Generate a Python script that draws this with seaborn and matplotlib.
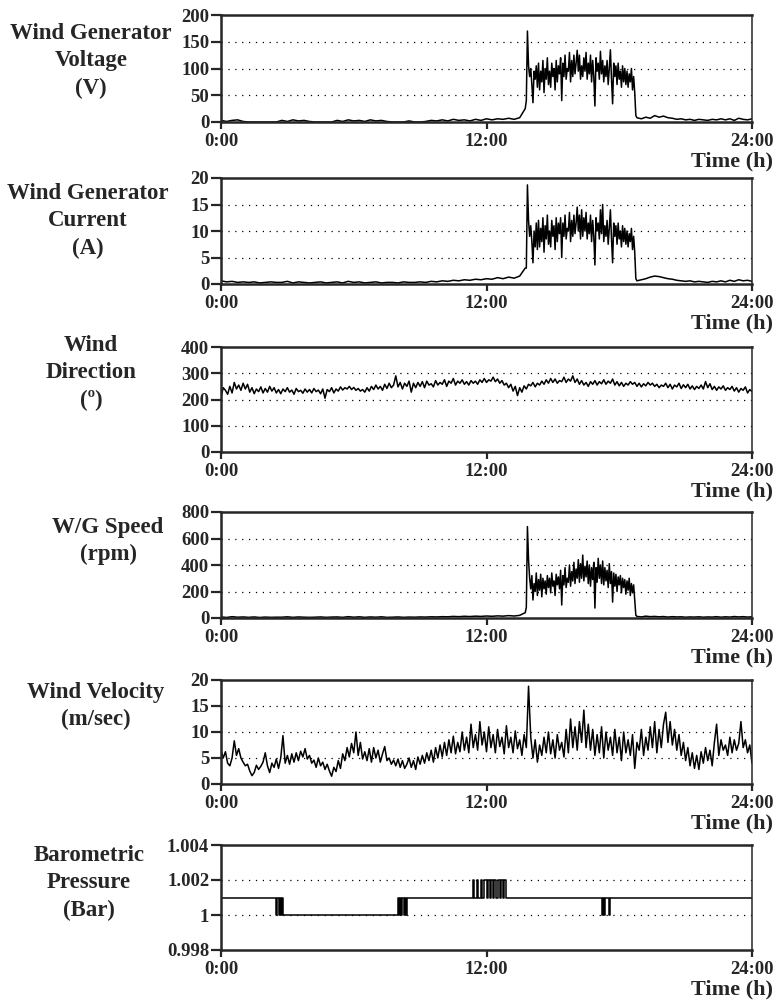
import numpy as np
import pandas as pd
import matplotlib
matplotlib.use('Agg')
import matplotlib.pyplot as plt
import seaborn as sns

# ---- time grids (hours) ----
t_low = np.arange(0, 13.76, 0.25)          # 0 .. 13.75
t_act = np.round(13.80 + 0.05 * np.arange(100), 2)   # 13.80 .. 18.75
t_post = np.round(18.8 + 0.2 * np.arange(27), 2)     # 18.8 .. 24.0
t_gen = np.concatenate([t_low, t_act, t_post])
t_day = np.round(0.1 * np.arange(241), 1)            # 0 .. 24.0

# ---- Wind generator voltage (V) ----
volt_low = [3, 1, 3, 4, 1,
            0, 0, 0, 0, 0, 0,
            3, 1, 4, 2, 3, 1,
            0, 0, 0, 0,
            3, 1, 4, 2, 3, 1, 4, 2, 3, 1,
            0, 0, 0, 2,
            0, 0, 1, 3, 2, 4, 2, 5, 3, 4, 2, 5, 3, 6, 4, 6, 5, 7, 5, 8, 25]
volt_act = [40, 170, 105, 85, 100, 70, 36, 95, 80, 105,
            65, 110, 60, 95, 75, 115, 55, 100, 80, 120,
            70, 95, 65, 110, 85, 100, 60, 115, 75, 105,
            90, 120, 40, 110, 85, 125, 80, 100, 95, 130,
            75, 115, 85, 125, 90, 110, 134, 95, 125, 80,
            105, 85, 120, 95, 130, 80, 110, 90, 125, 75,
            115, 85, 30, 120, 95, 110, 80, 132, 90, 115,
            75, 105, 85, 115, 70, 100, 135, 80, 34, 110,
            85, 105, 70, 110, 80, 95, 65, 105, 75, 100,
            70, 95, 65, 90, 75, 100, 60, 85, 55, 12]
volt_post = [8, 6, 9, 7, 12, 9, 11, 8, 7, 5,
             6, 4, 5, 3, 5, 4, 3, 5, 4, 6,
             4, 6, 3, 7, 5, 4, 6]

# ---- Wind generator current (A) ----
curr_low = [0.6, 0.4, 0.5, 0.3, 0.4,
            0.3, 0.4, 0.2, 0.3, 0.4, 0.3,
            0.3, 0.5, 0.2, 0.4, 0.3, 0.2,
            0.3, 0.4, 0.2, 0.3,
            0.4, 0.2, 0.5, 0.3, 0.4, 0.2, 0.3, 0.4, 0.2, 0.3,
            0.3, 0.2, 0.4, 0.3,
            0.3, 0.4, 0.3, 0.5, 0.4, 0.6, 0.5, 0.7, 0.6, 0.8, 0.7, 0.9, 0.8, 1.0,
            0.9, 1.2, 1.0, 1.3, 1.1, 1.5, 3.0]
curr_act = [3, 18.7, 12, 9, 11, 8, 4, 10, 7, 11.5,
            6.5, 12, 7, 10.5, 8, 12.5, 6, 11, 8.5, 13,
            7.5, 10, 7, 12, 9, 11, 6.5, 12.5, 8, 11.5,
            9.5, 12.5, 5, 11.5, 9, 13, 8.5, 10.5, 10, 13.5,
            8, 12, 9, 13, 9.5, 11.5, 14.5, 10, 13, 8.5,
            14, 9, 12.5, 10, 13.5, 8.5, 11.5, 9.5, 13, 8,
            12, 9, 3.6, 12.5, 10, 11.5, 8.5, 14, 9.5, 15,
            8, 11, 9, 12, 7.5, 10.5, 14, 8.5, 4, 11.5,
            9, 11, 7.5, 11.5, 8.5, 10, 7, 11, 8, 10.5,
            7.5, 10, 7, 9.5, 8, 10.5, 6.5, 9, 6, 1]
curr_post = [0.6, 0.8, 1.0, 1.3, 1.5, 1.4, 1.2, 1.0, 0.9, 0.7,
             0.6, 0.5, 0.6, 0.4, 0.5, 0.4, 0.3, 0.5, 0.4, 0.6,
             0.4, 0.7, 0.5, 0.8, 0.6, 0.7, 0.5]

# ---- W/G speed (rpm) ----
rpm_low = [8, 4, 10, 6, 8,
           5, 8, 4, 7, 5, 6,
           6, 9, 5, 8, 6, 5,
           6, 8, 5, 7,
           8, 5, 10, 6, 9, 5, 8, 6, 9, 5,
           6, 8, 5, 7,
           6, 8, 7, 9, 8, 10, 9, 12, 10, 13, 11, 14, 12, 15, 13, 16, 14, 18, 15, 20, 40]
rpm_act = [80, 690, 440, 300, 220, 320, 136, 260, 200, 340,
           170, 290, 210, 330, 160, 300, 220, 280, 180, 320,
           230, 300, 190, 340, 240, 280, 170, 330, 250, 310,
           220, 360, 98, 320, 250, 380, 230, 300, 270, 400,
           240, 350, 280, 420, 260, 370, 300, 440, 270, 410,
           300, 475, 280, 390, 310, 430, 260, 400, 240, 380,
           290, 420, 75, 380, 270, 450, 300, 400, 260, 430,
           250, 380, 280, 360, 230, 410, 260, 350, 120, 340,
           240, 330, 200, 310, 250, 320, 190, 300, 230, 290,
           180, 280, 210, 300, 170, 260, 190, 250, 140, 20]
rpm_post = [12, 8, 14, 10, 12, 9, 11, 7, 10, 8,
            9, 6, 8, 7, 9, 6, 8, 7, 10, 6,
            9, 7, 11, 8, 10, 7, 9]

# ---- Wind direction (deg), every 6 min ----
direction = [210, 245, 235, 220, 250, 225, 265, 240, 255, 235,
             262, 240, 258, 228, 245, 222, 240, 230, 248, 225,
             242, 228, 250, 232, 245, 225, 238, 222, 240, 230,
             245, 228, 236, 220, 242, 230, 235, 224, 240, 228,
             238, 225, 242, 230, 236, 222, 240, 205, 238, 230,
             245, 225, 240, 232, 248, 236, 245, 240, 250, 238,
             246, 235, 242, 232, 238, 228, 245, 232, 250, 238,
             255, 240, 250, 235, 258, 242, 262, 245, 255, 290,
             248, 265, 240, 262, 250, 270, 228, 262, 245, 265,
             250, 268, 245, 270, 255, 260, 248, 272, 255, 265,
             258, 275, 250, 270, 262, 280, 255, 270, 262, 275,
             258, 268, 255, 272, 262, 270, 258, 275, 265, 280,
             265, 275, 270, 285, 268, 278, 262, 272, 255, 262,
             245, 258, 232, 250, 215, 245, 228, 252, 240, 258,
             252, 265, 248, 262, 255, 270, 258, 275, 262, 280,
             265, 278, 262, 272, 268, 285, 265, 278, 270, 290,
             265, 278, 258, 272, 255, 265, 250, 268, 258, 272,
             255, 268, 260, 275, 258, 270, 262, 278, 255, 268,
             252, 265, 250, 262, 255, 268, 258, 265, 250, 262,
             248, 260, 252, 265, 255, 262, 250, 258, 245, 255,
             250, 262, 245, 258, 240, 255, 248, 262, 242, 256,
             245, 258, 240, 252, 238, 250, 242, 255, 240, 268,
             245, 260, 238, 250, 235, 248, 240, 252, 235, 245,
             238, 250, 232, 245, 228, 242, 235, 248, 225, 238,
             230]

# ---- Wind velocity (m/sec), every 6 min ----
velocity = [6.5, 5.0, 6.2, 4.0, 3.5, 5.0, 8.3, 5.5, 6.8, 5.0,
            4.2, 3.5, 3.8, 2.5, 1.6, 2.2, 3.6, 2.8, 3.4, 4.2,
            6.0, 3.5, 2.2, 4.0, 3.2, 4.8, 3.0, 5.0, 9.3, 4.0,
            5.5, 3.8, 5.8, 4.2, 6.0, 4.5, 6.3, 5.2, 6.8, 4.8,
            5.5, 4.0, 4.6, 3.2, 5.0, 3.5, 4.2, 2.8, 3.8, 2.5,
            1.5, 3.2, 2.4, 4.5, 3.0, 5.8, 4.5, 7.0, 5.2, 7.8,
            6.0, 10.0, 5.5, 8.0, 4.8, 6.2, 4.5, 6.8, 4.2, 7.0,
            5.0, 6.5, 4.2, 5.8, 7.2, 4.5, 5.0, 3.8, 4.6, 3.5,
            4.8, 3.2, 4.5, 3.0, 3.8, 5.0, 3.2, 4.5, 2.8, 5.2,
            3.8, 5.5, 4.0, 6.0, 4.5, 6.5, 4.2, 7.0, 5.0, 7.5,
            5.2, 8.0, 5.5, 8.5, 6.0, 9.2, 5.8, 8.0, 6.2, 10.0,
            6.5, 9.0, 6.0, 11.5, 7.0, 9.5, 6.5, 12.0, 7.5, 10.0,
            6.2, 11.0, 7.0, 9.5, 6.0, 10.5, 7.2, 9.0, 5.8, 11.2,
            7.0, 9.0, 6.0, 10.2, 6.8, 8.5, 5.5, 9.5, 7.0, 18.8,
            9.0, 5.0, 8.5, 4.2, 7.5, 5.5, 9.0, 6.0, 10.0, 5.8,
            8.5, 5.0, 9.5, 6.5, 8.0, 5.2, 10.5, 6.0, 12.5, 7.0,
            11.0, 6.5, 12.0, 8.0, 14.2, 7.0, 11.5, 6.5, 10.5, 5.5,
            9.5, 6.0, 11.0, 5.0, 10.0, 6.5, 9.0, 5.5, 10.5, 6.0,
            9.0, 4.5, 10.0, 6.0, 8.5, 5.5, 9.5, 3.0, 8.0, 6.5,
            10.5, 5.5, 9.0, 6.5, 11.0, 7.0, 12.0, 6.0, 10.5, 7.0,
            11.5, 13.8, 8.0, 12.0, 7.5, 10.5, 6.5, 9.5, 5.5, 8.0,
            4.5, 7.0, 3.5, 6.0, 3.0, 5.5, 2.8, 6.2, 4.0, 7.0,
            4.5, 6.5, 3.5, 8.0, 11.5, 5.5, 8.5, 6.5, 7.5, 5.5,
            9.0, 6.0, 8.5, 6.5, 7.8, 12.0, 7.0, 8.5, 6.0, 7.5,
            4.0]

# ---- Barometric pressure (Bar), step changes ----
p_time = [0.0, 2.50, 2.55, 2.60, 2.65, 2.70, 2.75, 2.80,
          8.00, 8.05, 8.10, 8.15, 8.20, 8.25, 8.30, 8.35, 8.40,
          11.40, 11.45, 11.55, 11.60, 11.75, 11.80, 11.90, 12.00, 12.05, 12.15,
          12.20, 12.30, 12.35, 12.45, 12.50, 12.60, 12.65, 12.75, 12.80, 12.90,
          17.20, 17.25, 17.30, 17.35, 17.55, 17.60, 24.0]
p_value = [1.001, 1.000, 1.001, 1.000, 1.001, 1.000, 1.001, 1.000,
           1.001, 1.000, 1.001, 1.000, 1.001, 1.000, 1.001, 1.000, 1.001,
           1.002, 1.001, 1.002, 1.001, 1.002, 1.001, 1.002, 1.001, 1.002, 1.001,
           1.002, 1.001, 1.002, 1.001, 1.002, 1.001, 1.002, 1.001, 1.002, 1.001,
           1.000, 1.001, 1.000, 1.001, 1.000, 1.001, 1.001]

panels = [
    dict(label='Wind Generator\nVoltage\n(V)', t=t_gen, y=volt_low + volt_act + volt_post,
         ticks=[0, 50, 100, 150, 200], ticklabels=['0', '50', '100', '150', '200']),
    dict(label='Wind Generator\nCurrent\n(A)', t=t_gen, y=curr_low + curr_act + curr_post,
         ticks=[0, 5, 10, 15, 20], ticklabels=['0', '5', '10', '15', '20']),
    dict(label='Wind\nDirection\n(º)', t=t_day, y=direction,
         ticks=[0, 100, 200, 300, 400], ticklabels=['0', '100', '200', '300', '400']),
    dict(label='W/G Speed\n(rpm)', t=t_gen, y=rpm_low + rpm_act + rpm_post,
         ticks=[0, 200, 400, 600, 800], ticklabels=['0', '200', '400', '600', '800']),
    dict(label='Wind Velocity\n(m/sec)', t=t_day, y=velocity,
         ticks=[0, 5, 10, 15, 20], ticklabels=['0', '5', '10', '15', '20']),
    dict(label='Barometric\nPressure\n(Bar)', t=p_time, y=p_value, steps=True,
         ticks=[0.998, 1.000, 1.002, 1.004], ticklabels=['0.998', '1', '1.002', '1.004']),
]

x_ticks = [0, 12, 24]
x_ticklabels = ['0:00', '12:00', '24:00']

sns.set_style('ticks')
plt.rcParams['font.family'] = ['Liberation Serif', 'DejaVu Serif']
plt.rcParams['font.weight'] = 'bold'

W, H = 778, 1006
fig = plt.figure(figsize=(W / 100, H / 100), dpi=100)

# axes boxes in pixels: (top, bottom); label centre (x, y)
boxes = [(15, 122), (178, 284), (347, 452), (512, 618), (680, 784), (845, 950)]
label_pos = [(91, 61), (88, 221), (91, 373), (108, 541), (96, 706), (89, 883)]
left_px, right_px = 221, 752

for p, (top, bot), (lx, ly) in zip(panels, boxes, label_pos):
    ax = fig.add_axes([left_px / W, 1 - bot / H, (right_px - left_px) / W, (bot - top) / H])
    df = pd.DataFrame({'t': p['t'], 'v': p['y']})
    kw = dict(drawstyle='steps-post') if p.get('steps') else {}
    sns.lineplot(data=df, x='t', y='v', ax=ax, color='black', linewidth=1.1,
                 estimator=None, sort=False, **kw)
    ax.set_xlim(0, 24)
    ax.set_ylim(p['ticks'][0], p['ticks'][-1])
    ax.set_xticks(x_ticks)
    ax.set_xticklabels(x_ticklabels)
    ax.set_yticks(p['ticks'])
    ax.set_yticklabels(p['ticklabels'])
    ax.set_xlabel('')
    ax.set_ylabel('')
    for v in p['ticks'][1:-1]:
        ax.axhline(v, color='black', linewidth=0.9, linestyle=(0, (1, 4.5)), zorder=0)
    for s in ['top', 'left', 'bottom']:
        ax.spines[s].set_linewidth(1.8)
    ax.spines['right'].set_linewidth(1.1)
    ax.tick_params(axis='y', direction='out', length=7, width=1.6, pad=1.5,
                   labelsize=13.5)
    ax.tick_params(axis='x', direction='out', length=5, width=1.6, pad=3,
                   labelsize=13.5)
    for lab in ax.get_xticklabels() + ax.get_yticklabels():
        lab.set_fontweight('bold')
    fig.text(lx / W, 1 - ly / H, p['label'], ha='center', va='center',
             fontsize=16.5, fontweight='bold', linespacing=1.4)
    fig.text(773 / W, 1 - (bot + 39) / H, 'Time (h)', ha='right', va='center',
             fontsize=16, fontweight='bold')

fig.savefig('out.png', dpi=100)
